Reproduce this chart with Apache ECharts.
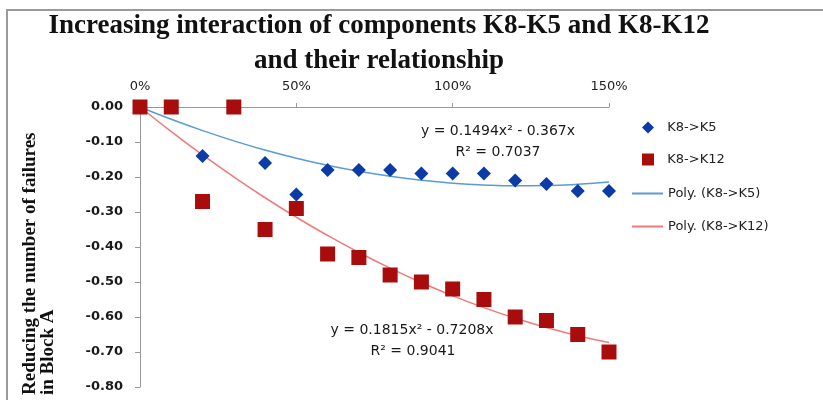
<!DOCTYPE html>
<html><head><meta charset="utf-8">
<script src="https://cdn.jsdelivr.net/npm/echarts@6/dist/echarts.min.js"></script>
<style>html,body{margin:0;padding:0;background:#fff}#c{width:823px;height:400px}</style>
</head><body><div id="c"></div>
<script>
// Data
const xs = [0, 0.1, 0.2, 0.3, 0.4, 0.5, 0.6, 0.7, 0.8, 0.9, 1.0, 1.1, 1.2, 1.3, 1.4, 1.5];
const k5  = [0, 0, -0.14, 0, -0.16, -0.25, -0.18, -0.18, -0.18, -0.19, -0.19, -0.19, -0.21, -0.22, -0.24, -0.24];
const k12 = [0, 0, -0.27, 0, -0.35, -0.29, -0.42, -0.43, -0.48, -0.50, -0.52, -0.55, -0.60, -0.61, -0.65, -0.70];
// Polynomial trend lines as drawn (values of the displayed fits)
const trendK5  = [0, -0.0352, -0.0674, -0.0967, -0.1229, -0.1462, -0.1664, -0.1837, -0.1980, -0.2093, -0.2176, -0.2229, -0.2253, -0.2246, -0.2210, -0.2144];
const trendK12 = [0, -0.0703, -0.1369, -0.1999, -0.2593, -0.3150, -0.3671, -0.4156, -0.4605, -0.5017, -0.5393, -0.5733, -0.6036, -0.6303, -0.6534, -0.6728];
const xTicks = ['0%', '50%', '100%', '150%'];
const seriesNames = ['K8->K5', 'K8->K12', 'Poly. (K8->K5)', 'Poly. (K8->K12)'];
const titleText = 'Increasing interaction of components K8-K5 and K8-K12\nand their relationship';
const yName = 'Reducing the number of failures\nin Block A';
const eq1 = ['y = 0.1494x\u00b2 - 0.367x', 'R\u00b2 = 0.7037'];
const eq2 = ['y = 0.1815x\u00b2 - 0.7208x', 'R\u00b2 = 0.9041'];

const pair = (ys) => xs.map((x, i) => [x, ys[i]]);
const lblFont = 'DejaVu Sans, Verdana, sans-serif';
const serif = 'Liberation Serif, Times New Roman, serif';
const chart = echarts.init(document.getElementById('c'));
chart.setOption({
  backgroundColor: '#fff',
  animation: false,
  title: {
    text: titleText, left: 374, top: 4, textAlign: 'center',
    textStyle: { fontFamily: serif, fontWeight: 'bold', fontSize: 27, lineHeight: 35, color: '#111' }
  },
  grid: { left: 140, right: 214, top: 107, bottom: 13 },
  xAxis: {
    type: 'value', position: 'top', min: 0, max: 1.5, interval: 0.5,
    axisLine: { show: true, lineStyle: { color: '#999', width: 1 } },
    axisTick: { show: true, length: 4, lineStyle: { color: '#999' } },
    splitLine: { show: false },
    axisLabel: { margin: 14, color: '#222', fontFamily: lblFont, fontSize: 13,
      formatter: (v) => xTicks[Math.round(v / 0.5)] }
  },
  yAxis: {
    type: 'value', min: -0.8, max: 0, interval: 0.1,
    axisLine: { show: true, onZero: false, lineStyle: { color: '#999', width: 1 } },
    axisTick: { show: true, length: 5, lineStyle: { color: '#999' } },
    splitLine: { show: false },
    axisLabel: { margin: 17, color: '#1a1a1a', fontFamily: lblFont, fontSize: 13, fontWeight: 'bold',
      formatter: (v) => v.toFixed(2) }
  },
  legend: [
    { orient: 'vertical', left: 642, top: 121, padding: 0, itemWidth: 12, itemHeight: 12, itemGap: 19,
      formatter: (n) => '  ' + n,
      textStyle: { fontFamily: lblFont, fontSize: 13, color: '#222' },
      data: [{ name: seriesNames[0], icon: 'diamond' }, { name: seriesNames[1], icon: 'rect' }] },
    { orient: 'vertical', left: 632, top: 187, padding: 0, itemWidth: 31, itemHeight: 2, itemGap: 20,
      textStyle: { fontFamily: lblFont, fontSize: 13, color: '#222' },
      data: [{ name: seriesNames[2], icon: 'rect' }, { name: seriesNames[3], icon: 'rect' }] }
  ],
  series: [
    { name: seriesNames[2], type: 'line', data: pair(trendK5), smooth: true, showSymbol: false,
      lineStyle: { color: '#5b9bd5', width: 1.5 }, itemStyle: { color: '#5b9bd5' }, z: 1 },
    { name: seriesNames[3], type: 'line', data: pair(trendK12), smooth: true, showSymbol: false,
      lineStyle: { color: '#f07a7a', width: 1.5 }, itemStyle: { color: '#f07a7a' }, z: 1 },
    { name: seriesNames[0], type: 'scatter', data: pair(k5), symbol: 'diamond', symbolSize: 14,
      itemStyle: { color: '#0b3ba6', opacity: 1 }, z: 3 },
    { name: seriesNames[1], type: 'scatter', data: pair(k12), symbol: 'rect', symbolSize: 15,
      itemStyle: { color: '#a80c0c', opacity: 1 }, z: 4 }
  ],
  graphic: [
    { type: 'rect', shape: { x: 7, y: 10, width: 830, height: 400 }, style: { fill: 'none', stroke: '#9a9a9a', lineWidth: 2 }, silent: true },
    { type: 'text', x: 498, y: 131, style: { text: eq1[0], font: '14px ' + lblFont, fill: '#1a1a1a', textAlign: 'center', textVerticalAlign: 'middle' } },
    { type: 'text', x: 498, y: 152, style: { text: eq1[1], font: '14px ' + lblFont, fill: '#1a1a1a', textAlign: 'center', textVerticalAlign: 'middle' } },
    { type: 'text', x: 412, y: 330, style: { text: eq2[0], font: '14px ' + lblFont, fill: '#1a1a1a', textAlign: 'center', textVerticalAlign: 'middle' } },
    { type: 'text', x: 413, y: 351, style: { text: eq2[1], font: '14px ' + lblFont, fill: '#1a1a1a', textAlign: 'center', textVerticalAlign: 'middle' } },
    { type: 'text', x: 39, y: 395, rotation: Math.PI / 2,
      style: { text: yName, font: 'bold 19px ' + serif, fill: '#111', textAlign: 'left', textVerticalAlign: 'middle', lineHeight: 18 } }
  ]
});
</script></body></html>
